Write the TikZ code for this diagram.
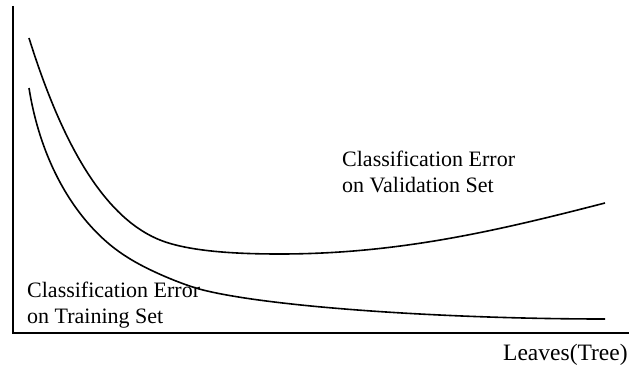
\documentclass[tikz,border=0pt]{standalone}
\usepackage{fontspec}
\setmainfont{Liberation Serif}
\begin{document}
\begin{tikzpicture}[x=1pt,y=-1pt,
  axis/.style={line width=1.5pt},
  curve/.style={line width=1.6pt},
  lbl/.style={font=\fontsize{22}{25.5}\selectfont, inner sep=0pt, align=left, anchor=base west}]
\useasboundingbox (0,0) rectangle (629,369);
% axes
\coordinate (top) at (13,6);
\coordinate (origin) at (13,333);
\coordinate (right) at (629,333);
\draw[axis] (top) -- (origin) -- (right);
% validation error curve
\coordinate (v0) at (29,38);
\coordinate (v1) at (160,240);
\coordinate (v2) at (280,254);
\coordinate (v3) at (605,203);
\draw[curve] (v0) .. controls (59,134) and (100,216) .. (v1)
                  .. controls (190,252) and (240,254) .. (v2)
                  .. controls (400,254) and (500,230) .. (v3);
% training error curve
\coordinate (t0) at (29,88);
\coordinate (t1) at (127,257);
\coordinate (t2) at (203,290);
\coordinate (t3) at (605,319);
\draw[curve] (t0) .. controls (42,170) and (82,229) .. (t1)
                  .. controls (147,270) and (183,285) .. (t2)
                  .. controls (273,307.5) and (450,319) .. (t3);
% labels (anchored at the baseline of the last line)
\node[lbl] (val) at (342,192) {Classification Error\\on Validation Set};
\node[lbl] (train) at (27,323) {Classification Error\\on Training Set};
\node[lbl, font=\fontsize{23.5}{27}\selectfont] (xlab) at (503,360) {Leaves(Tree)};
\end{tikzpicture}
\end{document}
